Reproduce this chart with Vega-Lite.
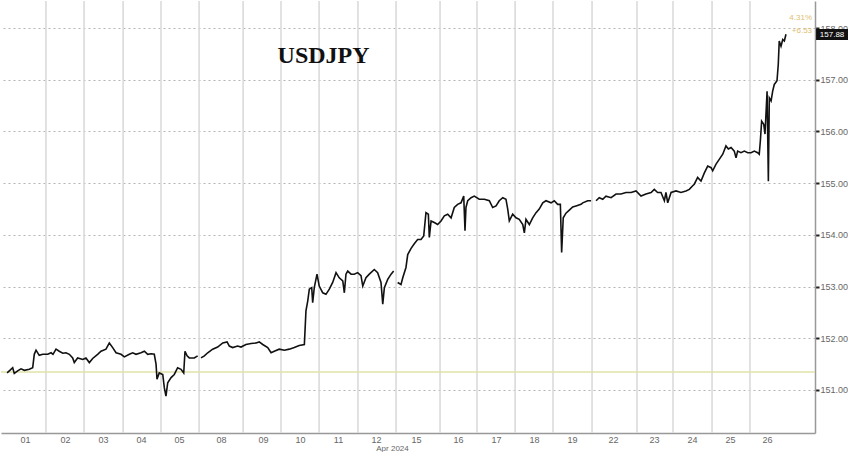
{
  "$schema": "https://vega.github.io/schema/vega-lite/v6.json",
  "width": 814,
  "height": 432,
  "autosize": {"type": "pad"},
  "padding": 0,
  "background": "white",
  "config": {"view": {"stroke": null}, "font": "Liberation Sans"},
  "datasets": {
    "one": [{}],
    "days": [{"t":28.1},{"t":51.9},{"t":76.3},{"t":100},{"t":123.8},{"t":151.3},{"t":175},{"t":198.8},{"t":223.1},{"t":246.9},{"t":274.4},{"t":297.5},{"t":321.3},{"t":345},{"t":369.4},{"t":397.5},{"t":420},{"t":444.4},{"t":468.1}],
    "px": [
      {"t":3.8,"v":151.33,"w":1},{"t":5.2,"v":151.37,"w":1},{"t":7.3,"v":151.43,"w":1},{"t":8.3,"v":151.32,"w":1},{"t":10.4,"v":151.37,"w":1},{"t":12.5,"v":151.41,"w":1},{"t":14.6,"v":151.38,"w":1},{"t":17.7,"v":151.40,"w":1},{"t":19.8,"v":151.43,"w":1},{"t":20.8,"v":151.69,"w":1},{"t":21.9,"v":151.77,"w":1},{"t":23.9,"v":151.67,"w":1},{"t":26.1,"v":151.69,"w":1},{"t":29.2,"v":151.69,"w":1},{"t":31.3,"v":151.72,"w":1},{"t":32.5,"v":151.69,"w":1},{"t":34.4,"v":151.79,"w":1},{"t":36.4,"v":151.75,"w":1},{"t":38.6,"v":151.71,"w":1},{"t":40.6,"v":151.72,"w":1},{"t":42.7,"v":151.69,"w":1},{"t":44.8,"v":151.62,"w":1},{"t":45.8,"v":151.53,"w":1},{"t":47.9,"v":151.62,"w":1},{"t":51.1,"v":151.59,"w":1},{"t":53.1,"v":151.62,"w":1},{"t":55.2,"v":151.53,"w":1},{"t":57.3,"v":151.61,"w":1},{"t":60.4,"v":151.69,"w":1},{"t":62.5,"v":151.75,"w":1},{"t":65.6,"v":151.79,"w":1},{"t":67.7,"v":151.91,"w":1},{"t":69.8,"v":151.82,"w":1},{"t":71.9,"v":151.72,"w":1},{"t":75.0,"v":151.69,"w":1},{"t":77.1,"v":151.64,"w":1},{"t":80.2,"v":151.69,"w":1},{"t":82.3,"v":151.72,"w":1},{"t":84.4,"v":151.69,"w":1},{"t":87.5,"v":151.72,"w":1},{"t":89.6,"v":151.75,"w":1},{"t":91.7,"v":151.69,"w":1},{"t":93.8,"v":151.70,"w":1},{"t":95.8,"v":151.69,"w":1},{"t":96.9,"v":151.50,"w":1},{"t":97.5,"v":151.21,"w":1},{"t":98.9,"v":151.33,"w":1},{"t":101.1,"v":151.30,"w":1},{"t":102.1,"v":151.04,"w":1},{"t":103.1,"v":150.88,"w":1},{"t":104.2,"v":151.14,"w":1},{"t":106.3,"v":151.24,"w":1},{"t":108.3,"v":151.30,"w":1},{"t":110.4,"v":151.43,"w":1},{"t":112.5,"v":151.40,"w":1},{"t":114.2,"v":151.33,"w":1},{"t":115.0,"v":151.75,"w":1},{"t":116.3,"v":151.66,"w":1},{"t":117.7,"v":151.62,"w":1},{"t":120.8,"v":151.62,"w":1},{"t":122.9,"v":151.66,"w":1},
      {"t":125.0,"v":151.62,"w":2},{"t":127.1,"v":151.66,"w":2},{"t":129.2,"v":151.72,"w":2},{"t":132.3,"v":151.79,"w":2},{"t":135.4,"v":151.83,"w":2},{"t":138.6,"v":151.91,"w":2},{"t":141.3,"v":151.93,"w":2},{"t":142.7,"v":151.85,"w":2},{"t":144.8,"v":151.82,"w":2},{"t":147.9,"v":151.85,"w":2},{"t":150.0,"v":151.83,"w":2},{"t":153.1,"v":151.88,"w":2},{"t":156.3,"v":151.90,"w":2},{"t":159.4,"v":151.91,"w":2},{"t":161.4,"v":151.93,"w":2},{"t":163.6,"v":151.88,"w":2},{"t":166.7,"v":151.82,"w":2},{"t":168.8,"v":151.72,"w":2},{"t":170.8,"v":151.75,"w":2},{"t":173.9,"v":151.79,"w":2},{"t":177.1,"v":151.77,"w":2},{"t":180.2,"v":151.79,"w":2},{"t":183.3,"v":151.82,"w":2},{"t":186.4,"v":151.86,"w":2},{"t":189.6,"v":151.88,"w":2},{"t":190.6,"v":152.53,"w":2},{"t":191.7,"v":152.72,"w":2},{"t":192.7,"v":152.95,"w":2},{"t":194.2,"v":152.98,"w":2},{"t":194.8,"v":152.69,"w":2},{"t":195.8,"v":152.98,"w":2},{"t":197.5,"v":153.24,"w":2},{"t":198.9,"v":153.01,"w":2},{"t":201.1,"v":152.88,"w":2},{"t":203.1,"v":152.85,"w":2},{"t":205.2,"v":152.95,"w":2},{"t":207.3,"v":153.08,"w":2},{"t":209.4,"v":153.27,"w":2},{"t":211.4,"v":153.17,"w":2},{"t":213.6,"v":153.11,"w":2},{"t":214.6,"v":152.88,"w":2},{"t":215.6,"v":153.24,"w":2},{"t":216.7,"v":153.30,"w":2},{"t":218.8,"v":153.24,"w":2},{"t":220.8,"v":153.24,"w":2},{"t":222.9,"v":153.27,"w":2},{"t":225.0,"v":153.21,"w":2},{"t":226.1,"v":153.01,"w":2},{"t":228.1,"v":153.17,"w":2},{"t":230.2,"v":153.24,"w":2},{"t":233.3,"v":153.33,"w":2},{"t":235.4,"v":153.27,"w":2},{"t":237.5,"v":153.08,"w":2},{"t":238.6,"v":152.66,"w":2},{"t":239.6,"v":152.98,"w":2},{"t":241.7,"v":153.14,"w":2},{"t":243.8,"v":153.24,"w":2},{"t":245.4,"v":153.30,"w":2},
      {"t":247.9,"v":153.08,"w":3},{"t":250.0,"v":153.04,"w":3},{"t":251.1,"v":153.17,"w":3},{"t":253.1,"v":153.37,"w":3},{"t":254.2,"v":153.62,"w":3},{"t":256.3,"v":153.74,"w":3},{"t":258.3,"v":153.83,"w":3},{"t":260.4,"v":153.91,"w":3},{"t":262.5,"v":153.91,"w":3},{"t":264.2,"v":153.98,"w":3},{"t":265.6,"v":154.43,"w":3},{"t":267.1,"v":154.40,"w":3},{"t":267.7,"v":153.95,"w":3},{"t":268.8,"v":154.27,"w":3},{"t":270.8,"v":154.24,"w":3},{"t":272.9,"v":154.20,"w":3},{"t":275.0,"v":154.27,"w":3},{"t":277.1,"v":154.37,"w":3},{"t":279.2,"v":154.40,"w":3},{"t":281.3,"v":154.33,"w":3},{"t":283.3,"v":154.53,"w":3},{"t":285.4,"v":154.59,"w":3},{"t":287.5,"v":154.62,"w":3},{"t":289.2,"v":154.75,"w":3},{"t":290.0,"v":154.08,"w":3},{"t":290.6,"v":154.53,"w":3},{"t":291.7,"v":154.66,"w":3},{"t":293.8,"v":154.72,"w":3},{"t":295.8,"v":154.75,"w":3},{"t":298.9,"v":154.69,"w":3},{"t":302.1,"v":154.69,"w":3},{"t":305.2,"v":154.66,"w":3},{"t":307.3,"v":154.53,"w":3},{"t":309.4,"v":154.56,"w":3},{"t":311.4,"v":154.66,"w":3},{"t":313.6,"v":154.72,"w":3},{"t":315.6,"v":154.69,"w":3},{"t":316.7,"v":154.50,"w":3},{"t":317.7,"v":154.27,"w":3},{"t":319.8,"v":154.40,"w":3},{"t":321.9,"v":154.33,"w":3},{"t":323.9,"v":154.30,"w":3},{"t":326.1,"v":154.20,"w":3},{"t":327.1,"v":154.04,"w":3},{"t":328.1,"v":154.30,"w":3},{"t":330.2,"v":154.20,"w":3},{"t":332.3,"v":154.33,"w":3},{"t":334.4,"v":154.43,"w":3},{"t":336.4,"v":154.50,"w":3},{"t":338.6,"v":154.62,"w":3},{"t":340.6,"v":154.66,"w":3},{"t":343.8,"v":154.62,"w":3},{"t":345.8,"v":154.66,"w":3},{"t":347.9,"v":154.59,"w":3},{"t":349.6,"v":154.59,"w":3},{"t":350.4,"v":153.66,"w":3},{"t":351.4,"v":154.33,"w":3},{"t":353.1,"v":154.42,"w":3},{"t":355.2,"v":154.48,"w":3},{"t":357.3,"v":154.54,"w":3},{"t":359.4,"v":154.56,"w":3},{"t":362.5,"v":154.59,"w":3},{"t":363.6,"v":154.62,"w":3},{"t":366.7,"v":154.66,"w":3},{"t":368.8,"v":154.66,"w":3},
      {"t":371.9,"v":154.66,"w":4},{"t":373.9,"v":154.72,"w":4},{"t":376.1,"v":154.69,"w":4},{"t":378.1,"v":154.75,"w":4},{"t":381.3,"v":154.72,"w":4},{"t":384.4,"v":154.79,"w":4},{"t":387.5,"v":154.79,"w":4},{"t":390.6,"v":154.82,"w":4},{"t":393.8,"v":154.82,"w":4},{"t":396.9,"v":154.85,"w":4},{"t":400.0,"v":154.75,"w":4},{"t":403.1,"v":154.79,"w":4},{"t":406.3,"v":154.82,"w":4},{"t":408.3,"v":154.88,"w":4},{"t":410.4,"v":154.82,"w":4},{"t":412.5,"v":154.82,"w":4},{"t":414.6,"v":154.66,"w":4},{"t":415.6,"v":154.82,"w":4},{"t":416.7,"v":154.62,"w":4},{"t":418.8,"v":154.82,"w":4},{"t":421.9,"v":154.85,"w":4},{"t":425.0,"v":154.82,"w":4},{"t":428.1,"v":154.85,"w":4},{"t":430.2,"v":154.88,"w":4},{"t":432.3,"v":154.95,"w":4},{"t":433.3,"v":154.98,"w":4},{"t":435.4,"v":155.11,"w":4},{"t":437.5,"v":155.04,"w":4},{"t":439.6,"v":155.20,"w":4},{"t":441.7,"v":155.33,"w":4},{"t":443.8,"v":155.30,"w":4},{"t":444.8,"v":155.24,"w":4},{"t":446.9,"v":155.37,"w":4},{"t":448.9,"v":155.46,"w":4},{"t":451.1,"v":155.56,"w":4},{"t":453.1,"v":155.72,"w":4},{"t":454.6,"v":155.66,"w":4},{"t":456.3,"v":155.69,"w":4},{"t":458.3,"v":155.62,"w":4},{"t":459.4,"v":155.49,"w":4},{"t":460.4,"v":155.62,"w":4},{"t":462.5,"v":155.59,"w":4},{"t":464.6,"v":155.62,"w":4},{"t":466.7,"v":155.59,"w":4},{"t":468.8,"v":155.59,"w":4},{"t":470.8,"v":155.62,"w":4},{"t":472.9,"v":155.59,"w":4},{"t":473.9,"v":155.56,"w":4},{"t":474.6,"v":155.82,"w":4},{"t":475.4,"v":156.20,"w":4},{"t":476.7,"v":156.14,"w":4},{"t":477.5,"v":155.95,"w":4},{"t":478.8,"v":156.78,"w":4},{"t":479.6,"v":155.04,"w":4},{"t":480.2,"v":156.65,"w":4},{"t":481.3,"v":156.59,"w":4},{"t":482.3,"v":156.78,"w":4},{"t":483.3,"v":156.91,"w":4},{"t":485.0,"v":156.98,"w":4},{"t":485.8,"v":157.30,"w":4},{"t":486.4,"v":157.75,"w":4},{"t":487.5,"v":157.65,"w":4},{"t":488.6,"v":157.78,"w":4},{"t":489.6,"v":157.75,"w":4},{"t":490.6,"v":157.88,"w":4}
    ]
  },
  "layer": [
    {
      "data": {"name": "days"},
      "mark": {"type": "rule", "color": "#d8d8d8", "strokeWidth": 1.5},
      "encoding": {
        "x": {
          "field": "t", "type": "quantitative",
          "scale": {"domain": [0, 508.75], "nice": false, "zero": false},
          "axis": {
            "values": [15, 40, 63.8, 87.5, 111.3, 137.5, 163.8, 186.9, 210.6, 234.4, 259.4, 285.6, 309.4, 333.1, 356.9, 382.5, 408.1, 431.9, 455.6, 478.8],
            "labelExpr": "['01','02','03','04','05','08','09','10','11','12','15','16','17','18','19','22','23','24','25','26'][indexof([15, 40, 63.8, 87.5, 111.3, 137.5, 163.8, 186.9, 210.6, 234.4, 259.4, 285.6, 309.4, 333.1, 356.9, 382.5, 408.1, 431.9, 455.6, 478.8], datum.value)]",
            "grid": false, "ticks": false,
            "domainColor": "#999", "domainWidth": 1.5,
            "labelFontSize": 9, "labelColor": "#666", "labelPadding": 2,
            "labelFlush": false, "labelOverlap": false,
            "title": "Apr 2024", "titleFontSize": 8, "titleFontWeight": "normal", "titleColor": "#666", "titlePadding": 0, "titleX": 391
          }
        }
      }
    },
    {
      "data": {"name": "one"},
      "mark": {"type": "rule", "color": "#e2e2a8", "strokeWidth": 1.5},
      "encoding": {"y": {"datum": 151.35, "type": "quantitative"}}
    },
    {
      "data": {"name": "px"},
      "mark": {"type": "line", "color": "#111", "strokeWidth": 1.6, "strokeJoin": "miter"},
      "encoding": {
        "x": {"field": "t", "type": "quantitative"},
        "y": {
          "field": "v", "type": "quantitative",
          "scale": {"domain": [150.168, 158.524], "nice": false, "zero": false},
          "axis": {
            "orient": "right", "values": [151, 152, 153, 154, 155, 156, 157, 158], "format": ".2f",
            "grid": true, "gridColor": "#b4b4b4", "gridDash": [2, 3], "gridWidth": 1,
            "domainColor": "#999", "domainWidth": 1.5,
            "tickColor": "#222", "tickSize": 4, "tickWidth": 2,
            "labelFontSize": 9, "labelColor": "#666", "labelPadding": 1, "title": null
          }
        },
        "detail": {"field": "w", "type": "nominal"}
      }
    },
    {
      "data": {"name": "one"},
      "mark": {"type": "text", "font": "Liberation Serif", "fontWeight": "bold", "fontSize": 24, "color": "#111", "align": "center", "baseline": "alphabetic"},
      "encoding": {"x": {"datum": 201.6, "type": "quantitative"}, "y": {"datum": 157.33, "type": "quantitative"}, "text": {"value": "USDJPY"}}
    },
    {
      "data": {"name": "one"},
      "mark": {"type": "text", "fontSize": 8, "color": "#e0c070", "align": "right", "baseline": "middle"},
      "encoding": {"x": {"datum": 506.9, "type": "quantitative"}, "y": {"datum": 158.195, "type": "quantitative"}, "text": {"value": "4.31%"}}
    },
    {
      "data": {"name": "one"},
      "mark": {"type": "text", "fontSize": 8, "color": "#e0c070", "align": "right", "baseline": "middle"},
      "encoding": {"x": {"datum": 506.9, "type": "quantitative"}, "y": {"datum": 157.94, "type": "quantitative"}, "text": {"value": "+6.53"}}
    },
    {
      "data": {"name": "one"},
      "mark": {"type": "rect", "color": "#111"},
      "encoding": {"x": {"datum": 509.4, "type": "quantitative"}, "x2": {"datum": 529.4}, "y": {"datum": 157.98, "type": "quantitative"}, "y2": {"datum": 157.77}}
    },
    {
      "data": {"name": "one"},
      "mark": {"type": "text", "fontSize": 8, "color": "white", "align": "center", "baseline": "middle"},
      "encoding": {"x": {"datum": 519.4, "type": "quantitative"}, "y": {"datum": 157.875, "type": "quantitative"}, "text": {"value": "157.88"}}
    }
  ]
}
